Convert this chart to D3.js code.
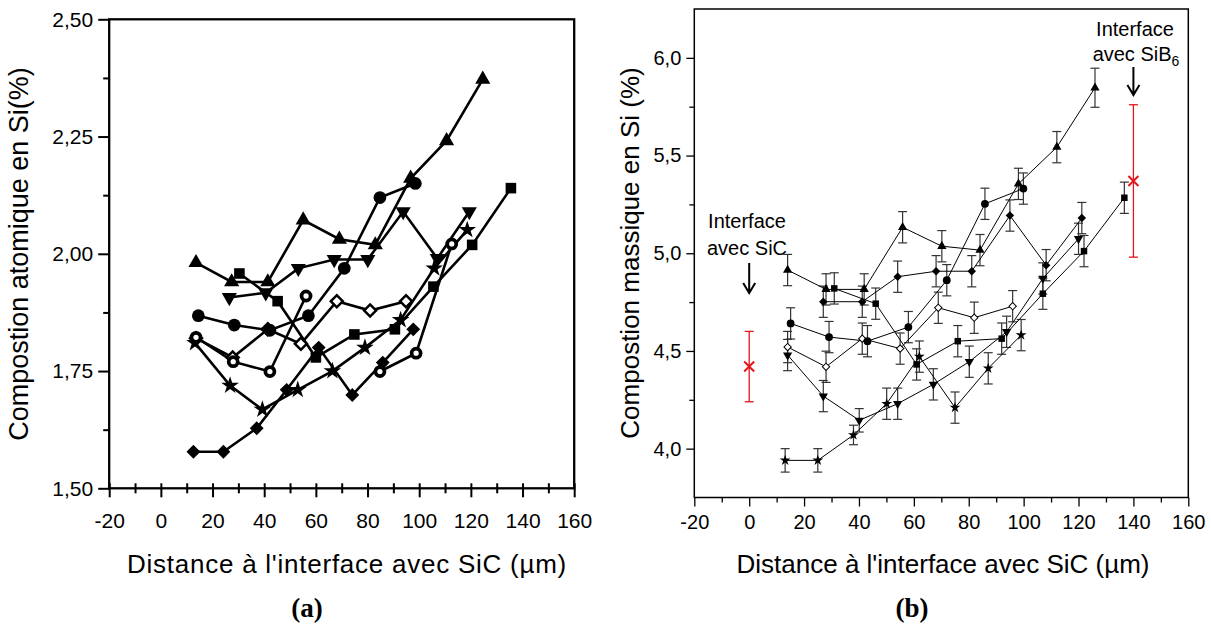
<!DOCTYPE html>
<html>
<head>
<meta charset="utf-8">
<script src="https://cdn.jsdelivr.net/npm/d3@7"></script>
<style>
	body { margin: 0; background: #fff; }
	svg text { font-family: "Liberation Sans", Arial, sans-serif; fill: #000; }
</style>
</head>
<body>
<div id="chart"></div>
<script>
// ---- panel (a) : atomic composition ----
const aTriX = [13.6, 27.4, 41.4, 55.1, 69.1, 83.0, 96.7, 110.6, 124.6];
const aTriY = [1.981, 1.94, 1.94, 2.072, 2.031, 2.019, 2.161, 2.241, 2.372];
const aSqX = [30.4, 45.2, 60.0, 74.9, 90.6, 105.5, 120.5, 135.5];
const aSqY = [1.958, 1.899, 1.779, 1.828, 1.839, 1.93, 2.019, 2.14];
const aDownX = [26.5, 40.6, 53.2, 67.1, 80.1, 93.8, 107.0, 119.4];
const aDownY = [1.907, 1.917, 1.969, 1.988, 1.988, 2.09, 1.99, 2.09];
const aCircX = [14.5, 28.4, 42.2, 57.1, 71.0, 84.8, 98.5];
const aCircY = [1.868, 1.848, 1.837, 1.868, 1.969, 2.12, 2.15];
const aHollowX = [13.6, 27.8, 41.4, 54.2, 68.1, 81.0, 94.9];
const aHollowY = [1.82, 1.779, 1.839, 1.808, 1.899, 1.879, 1.899];
const aStarX = [13.2, 26.8, 39.3, 53.0, 66.4, 79.0, 92.8, 105.8, 118.6];
const aStarY = [1.81, 1.719, 1.668, 1.71, 1.75, 1.80, 1.859, 1.969, 2.051];
const aDiaX = [12.6, 24.2, 37.1, 48.7, 61.1, 74.1, 85.9, 97.7];
const aDiaY = [1.578, 1.578, 1.628, 1.71, 1.80, 1.699, 1.768, 1.839];
const aRingX = [13.6, 28.0, 42.2, 56.2];
const aRingY = [1.822, 1.77, 1.749, 1.91];
const aRing2X = [84.8, 98.8, 112.6];
const aRing2Y = [1.749, 1.788, 2.021];

// ---- panel (b) : mass composition, with error bars ----
const bTriX = [14.0, 28.0, 41.9, 55.9, 70.2, 84.1, 98.1, 112.1, 126.0];
const bTriY = [4.914, 4.815, 4.815, 5.133, 5.036, 5.016, 5.355, 5.543, 5.847];
const bTriE = [0.08, 0.08, 0.08, 0.08, 0.08, 0.08, 0.08, 0.08, 0.1];
const bSqX = [31.0, 46.1, 61.0, 76.0, 92.0, 107.0, 122.0, 136.7];
const bSqY = [4.82, 4.742, 4.431, 4.55, 4.563, 4.793, 5.011, 5.284];
const bSqE = [0.08, 0.08, 0.08, 0.08, 0.08, 0.08, 0.08, 0.08];
const bCircX = [15.1, 29.1, 43.1, 58.0, 72.0, 85.9, 99.9];
const bCircY = [4.641, 4.571, 4.55, 4.622, 4.862, 5.253, 5.331];
const bCircE = [0.08, 0.08, 0.08, 0.08, 0.08, 0.08, 0.08];
const bHollowX = [14.0, 28.0, 41.2, 55.0, 68.9, 82.0, 96.0];
const bHollowY = [4.52, 4.419, 4.563, 4.512, 4.721, 4.67, 4.729];
const bHollowE = [0.08, 0.08, 0.08, 0.08, 0.08, 0.08, 0.08];
const bDiaX = [27.0, 41.2, 54.1, 68.1, 81.1, 95.0, 108.2, 121.2];
const bDiaY = [4.752, 4.752, 4.88, 4.908, 4.908, 5.193, 4.939, 5.18];
const bDiaE = [0.08, 0.08, 0.08, 0.08, 0.08, 0.08, 0.08, 0.08];
const bDownX = [14.0, 27.0, 40.1, 54.1, 67.1, 80.2, 93.8, 107.0, 120.0];
const bDownY = [4.479, 4.269, 4.145, 4.23, 4.329, 4.445, 4.598, 4.871, 5.074];
const bDownE = [0.08, 0.08, 0.06, 0.08, 0.08, 0.08, 0.08, 0.08, 0.08];
const bStarX = [13.1, 25.0, 38.0, 50.1, 62.0, 75.0, 87.1, 99.1];
const bStarY = [3.94, 3.94, 4.07, 4.23, 4.471, 4.21, 4.411, 4.581];
const bStarE = [0.06, 0.06, 0.05, 0.08, 0.08, 0.08, 0.08, 0.08];
// interface reference points (red)
const redX = [0, 140];
const redY = [4.42, 5.37];
const redE = [0.18, 0.39];

const xTicks = [-20, 0, 20, 40, 60, 80, 100, 120, 140, 160];

const zip = (xs, ys, es) => xs.map((x, i) => ({ x: x, y: ys[i], e: es ? es[i] : 0 }));

const seriesA = [
	{ pts: zip(aDiaX, aDiaY), sym: 'dia' },
	{ pts: zip(aStarX, aStarY), sym: 'star' },
	{ pts: zip(aHollowX, aHollowY), sym: 'hollow' },
	{ pts: zip(aRingX, aRingY), sym: 'ring' },
	{ pts: zip(aRing2X, aRing2Y), sym: 'ring' },
	{ pts: zip(aCircX, aCircY), sym: 'circ' },
	{ pts: zip(aDownX, aDownY), sym: 'down' },
	{ pts: zip(aSqX, aSqY), sym: 'sq' },
	{ pts: zip(aTriX, aTriY), sym: 'tri' }
];
const seriesB = [
	{ pts: zip(bStarX, bStarY, bStarE), sym: 'star' },
	{ pts: zip(bDownX, bDownY, bDownE), sym: 'down' },
	{ pts: zip(bHollowX, bHollowY, bHollowE), sym: 'hollow' },
	{ pts: zip(bCircX, bCircY, bCircE), sym: 'circ' },
	{ pts: zip(bDiaX, bDiaY, bDiaE), sym: 'dia' },
	{ pts: zip(bSqX, bSqY, bSqE), sym: 'sq' },
	{ pts: zip(bTriX, bTriY, bTriE), sym: 'tri' }
];

const svg = d3.select('#chart').append('svg').attr('width', 1211).attr('height', 635);

// draw a marker of a given kind at (cx, cy); k scales the size
const marker = (g, kind, cx, cy, k, lw) => {
	let type = d3.symbolTriangle, size = 60, rot = 0, fill = '#000', stroke = 'none', sw = 0;
	if (kind === 'tri') { type = d3.symbolTriangle; size = 62; }
	if (kind === 'down') { type = d3.symbolTriangle; size = 62; rot = 180; }
	if (kind === 'sq') { type = d3.symbolSquare; size = 70; }
	if (kind === 'circ') { type = d3.symbolCircle; size = 80; }
	if (kind === 'dia') { type = d3.symbolSquare; size = 60; rot = 45; }
	if (kind === 'star') { type = d3.symbolStar; size = 60; }
	if (kind === 'hollow') { type = d3.symbolSquare; size = 45; rot = 45; fill = '#fff'; stroke = '#000'; sw = lw; }
	if (kind === 'ring') { type = d3.symbolCircle; size = 40; fill = '#fff'; stroke = '#000'; sw = lw * 1.5; }
	g.append('path')
		.attr('d', d3.symbol().type(type).size(size * k)())
		.attr('transform', 'translate(' + cx + ',' + cy + ') rotate(' + rot + ')')
		.attr('fill', fill)
		.attr('stroke', stroke)
		.attr('stroke-width', sw);
};

const styleAxis = (sel, fontSize, lw) => {
	sel.select('.domain').remove();
	sel.selectAll('line').attr('stroke', '#000').attr('stroke-width', lw);
	sel.selectAll('text').attr('font-size', fontSize).attr('font-family', '"Liberation Sans", Arial, sans-serif');
};

// ================= panel (a) =================
const xA = d3.scaleLinear().domain([ -20, 160 ]).range([ 109.2, 574.2 ]);
const yA = d3.scaleLinear().domain([ 1.5, 2.5 ]).range([ 488.3, 19.3 ]);
const gA = svg.append('g');

// x ticks in panel (a) cross the axis line
gA.append('g').attr('transform', 'translate(0,488.3)')
	.call(d3.axisBottom(xA).tickValues(d3.range(-10, 160, 20)).tickSize(5).tickFormat(''))
	.call((s) => styleAxis(s, 21, 2))
	.call((s) => s.selectAll('line').attr('y1', -5));
gA.append('g').attr('transform', 'translate(0,488.3)')
	.call(d3.axisBottom(xA).tickValues(xTicks).tickSize(9).tickPadding(16).tickFormat((d) => String(d)))
	.call((s) => styleAxis(s, 21, 2))
	.call((s) => s.selectAll('line').attr('y1', -5));
gA.append('g').attr('transform', 'translate(109.2,0)')
	.call(d3.axisLeft(yA).tickValues(d3.range(1.625, 2.5, 0.25)).tickSize(6).tickFormat(''))
	.call((s) => styleAxis(s, 21, 2));
gA.append('g').attr('transform', 'translate(109.2,0)')
	.call(d3.axisLeft(yA).tickValues([ 1.5, 1.75, 2.0, 2.25, 2.5 ]).tickSize(11).tickPadding(5)
		.tickFormat((d) => d3.format('.2f')(d).replace('.', ',')))
	.call((s) => styleAxis(s, 21, 2));

gA.append('rect')
	.attr('x', xA(-20)).attr('y', yA(2.5))
	.attr('width', xA(160) - xA(-20)).attr('height', yA(1.5) - yA(2.5))
	.attr('fill', 'none').attr('stroke', '#000').attr('stroke-width', 2.3);

const lineA = d3.line().x((d) => xA(d.x)).y((d) => yA(d.y));
seriesA.forEach((s) => {
	gA.append('path').attr('d', lineA(s.pts)).attr('fill', 'none').attr('stroke', '#000').attr('stroke-width', 2.6);
});
seriesA.forEach((s) => {
	s.pts.forEach((p) => marker(gA, s.sym, xA(p.x), yA(p.y), 1.6, 2.5));
});

gA.append('text')
	.attr('transform', 'translate(19,254) rotate(-90)')
	.attr('text-anchor', 'middle').attr('dy', '0.35em')
	.attr('font-size', 27)
	.text('Compostion atomique en Si(%)');
gA.append('text')
	.attr('x', 347).attr('y', 573)
	.attr('text-anchor', 'middle')
	.attr('font-size', 26).attr('letter-spacing', 0.75)
	.text("Distance à l'interface avec SiC (µm)");
gA.append('text')
	.attr('x', 307).attr('y', 617)
	.attr('text-anchor', 'middle')
	.attr('font-size', 27).attr('font-weight', 'bold')
	.style('font-family', '"Liberation Serif", "Times New Roman", serif')
	.text('(a)');

// ================= panel (b) =================
const xB = d3.scaleLinear().domain([ -20, 160 ]).range([ 694.3, 1188.3 ]);
const yB = d3.scaleLinear().domain([ 3.75, 6.25 ]).range([ 497.5, 9 ]);
const gB = svg.append('g');

gB.append('g').attr('transform', 'translate(0,497.5)')
	.call(d3.axisBottom(xB).tickValues(d3.range(-10, 160, 20)).tickSize(5).tickFormat(''))
	.call((s) => styleAxis(s, 20, 1.3));
gB.append('g').attr('transform', 'translate(0,497.5)')
	.call(d3.axisBottom(xB).tickValues(xTicks).tickSize(9).tickPadding(8).tickFormat((d) => String(d)))
	.call((s) => styleAxis(s, 20, 1.3));
gB.append('g').attr('transform', 'translate(694.3,0)')
	.call(d3.axisLeft(yB).tickValues([ 4.25, 4.75, 5.25, 5.75 ]).tickSize(5).tickFormat(''))
	.call((s) => styleAxis(s, 20, 1.3));
gB.append('g').attr('transform', 'translate(694.3,0)')
	.call(d3.axisLeft(yB).tickValues([ 4.0, 4.5, 5.0, 5.5, 6.0 ]).tickSize(8).tickPadding(5)
		.tickFormat((d) => d3.format('.1f')(d).replace('.', ',')))
	.call((s) => styleAxis(s, 20, 1.3));

gB.append('rect')
	.attr('x', xB(-20)).attr('y', yB(6.25))
	.attr('width', xB(160) - xB(-20)).attr('height', yB(3.75) - yB(6.25))
	.attr('fill', 'none').attr('stroke', '#000').attr('stroke-width', 1.5);

// error bars
const errBar = (g, cx, cy1, cy2, color, w) => {
	g.append('line').attr('x1', cx).attr('x2', cx).attr('y1', cy1).attr('y2', cy2).attr('stroke', color).attr('stroke-width', w);
	[ cy1, cy2 ].forEach((cy) => {
		g.append('line').attr('x1', cx - 4.5).attr('x2', cx + 4.5).attr('y1', cy).attr('y2', cy).attr('stroke', color).attr('stroke-width', w);
	});
};
seriesB.forEach((s) => {
	s.pts.forEach((p) => errBar(gB, xB(p.x), yB(p.y - p.e), yB(p.y + p.e), '#333', 1.2));
});

const lineB = d3.line().x((d) => xB(d.x)).y((d) => yB(d.y));
seriesB.forEach((s) => {
	gB.append('path').attr('d', lineB(s.pts)).attr('fill', 'none').attr('stroke', '#000').attr('stroke-width', 1);
});
seriesB.forEach((s) => {
	s.pts.forEach((p) => marker(gB, s.sym, xB(p.x), yB(p.y), 0.6, 1));
});

// red interface points
redX.forEach((v, i) => {
	const cx = xB(v), cy = yB(redY[i]);
	errBar(gB, cx, yB(redY[i] - redE[i]), yB(redY[i] + redE[i]), '#e4161b', 1.3);
	gB.append('path')
		.attr('d', 'M' + (cx - 5) + ',' + (cy - 5) + 'L' + (cx + 5) + ',' + (cy + 5) + 'M' + (cx - 5) + ',' + (cy + 5) + 'L' + (cx + 5) + ',' + (cy - 5))
		.attr('stroke', '#e4161b').attr('stroke-width', 2);
});

// annotations with arrows
const arrow = (g, cx, y1, y2) => {
	g.append('path')
		.attr('d', 'M' + cx + ',' + y1 + 'V' + y2 + 'M' + (cx - 6) + ',' + (y2 - 10) + 'L' + cx + ',' + y2 + 'L' + (cx + 6) + ',' + (y2 - 10))
		.attr('fill', 'none').attr('stroke', '#000').attr('stroke-width', 2);
};
gB.append('text').attr('x', 747).attr('y', 228).attr('text-anchor', 'middle').attr('font-size', 20).text('Interface');
gB.append('text').attr('x', 747).attr('y', 255).attr('text-anchor', 'middle').attr('font-size', 20).text('avec SiC');
arrow(gB, xB(0), 263, 293);

gB.append('text').attr('x', 1135).attr('y', 36).attr('text-anchor', 'middle').attr('font-size', 20).text('Interface');
const sib = gB.append('text').attr('x', 1136).attr('y', 61).attr('text-anchor', 'middle').attr('font-size', 20);
sib.append('tspan').text('avec SiB');
sib.append('tspan').attr('font-size', 14).attr('dy', 5).text('6');
arrow(gB, xB(140), 67, 95);

gB.append('text')
	.attr('transform', 'translate(630,253) rotate(-90)')
	.attr('text-anchor', 'middle').attr('dy', '0.35em')
	.attr('font-size', 26)
	.text('Compostion massique en Si (%)');
gB.append('text')
	.attr('x', 943).attr('y', 573)
	.attr('text-anchor', 'middle')
	.attr('font-size', 26)
	.text("Distance à l'interface avec SiC (µm)");
gB.append('text')
	.attr('x', 912).attr('y', 617)
	.attr('text-anchor', 'middle')
	.attr('font-size', 27).attr('font-weight', 'bold')
	.style('font-family', '"Liberation Serif", "Times New Roman", serif')
	.text('(b)');
</script>
</body>
</html>
